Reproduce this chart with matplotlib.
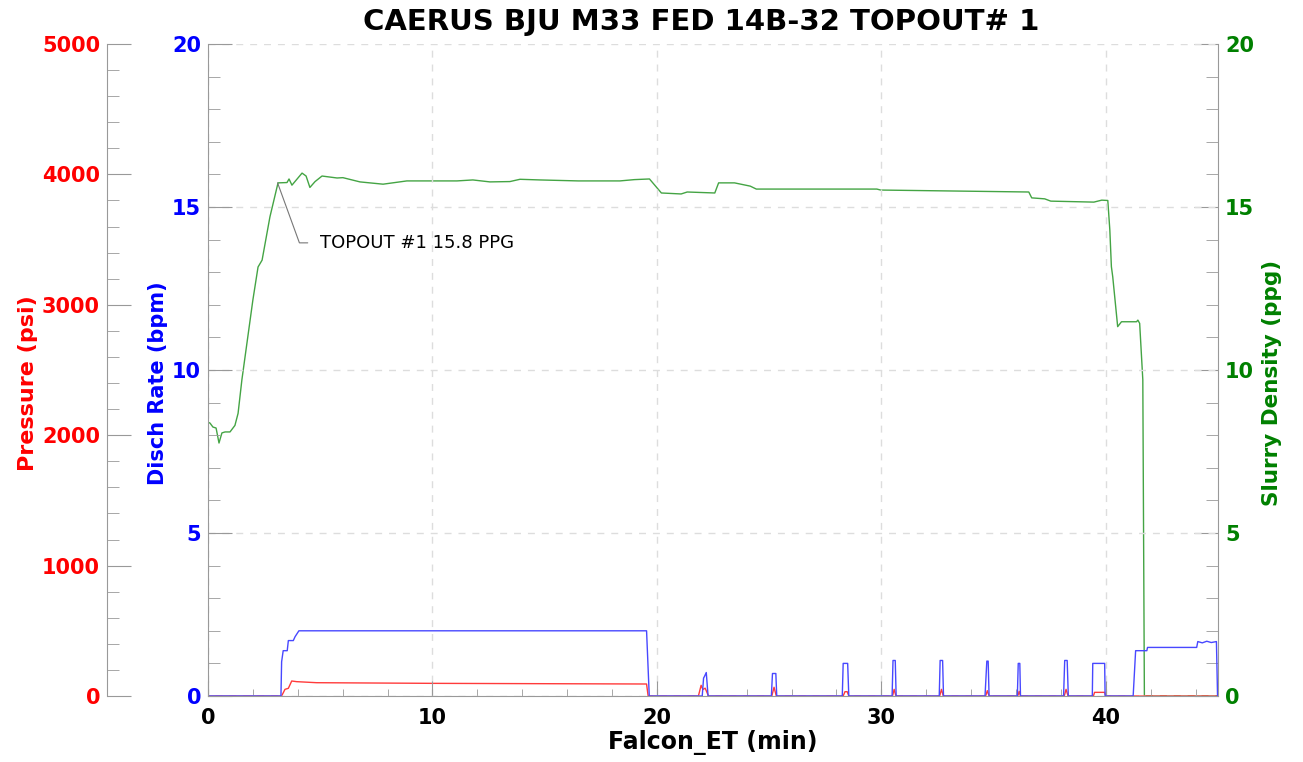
import matplotlib.pyplot as plt
from matplotlib.ticker import MultipleLocator

plt.rcParams['font.family'] = ['DejaVu Sans']

title = 'CAERUS BJU M33 FED 14B-32 TOPOUT# 1'

# Slurry density (ppg)
dens_t = [0, 0.09, 0.22, 0.36, 0.49, 0.62, 0.76, 0.98, 1.2, 1.34, 1.51, 2.0, 2.23, 2.41,
          2.76, 3.12, 3.52, 3.61, 3.74, 4.19, 4.37, 4.54, 4.77, 5.08, 5.75, 6.01, 6.77,
          7.8, 8.86, 11.09, 11.8, 12.56, 13.45, 13.9, 14.79, 16.5, 18.35, 19.0, 19.67,
          20.2, 21.08, 21.35, 22.58, 22.75, 23.46, 24.16, 24.43, 29.8, 29.97, 36.57,
          36.7, 37.28, 37.55, 39.47, 39.82, 40.09, 40.18, 40.25, 40.31, 40.53, 40.7,
          41.37, 41.43, 41.51, 41.65, 41.72, 45]
dens = [8.4, 8.37, 8.25, 8.22, 7.76, 8.07, 8.1, 8.1, 8.3, 8.67, 9.7, 12.15, 13.16, 13.37,
        14.7, 15.74, 15.75, 15.86, 15.67, 16.04, 15.95, 15.6, 15.78, 15.95, 15.89, 15.9, 15.77,
        15.7, 15.8, 15.8, 15.83, 15.77, 15.78, 15.85, 15.83, 15.8, 15.8, 15.84, 15.86,
        15.43, 15.4, 15.46, 15.43, 15.74, 15.74, 15.64, 15.55, 15.55, 15.52, 15.46,
        15.28, 15.25, 15.18, 15.15, 15.21, 15.2, 14.3, 13.17, 12.86, 11.33, 11.48,
        11.48, 11.53, 11.43, 9.7, 0, 0]

# Discharge rate (bpm)
rate_t = [0, 3.25, 3.28, 3.35, 3.53, 3.58, 3.8, 3.88, 4.05, 19.54, 19.66,
          22.02, 22.08, 22.12, 22.2, 22.28,
          25.1, 25.15, 25.3, 25.34,
          28.26, 28.3, 28.5, 28.55,
          30.48, 30.52, 30.62, 30.66,
          32.58, 32.62, 32.73, 32.77,
          34.62, 34.7, 34.76, 34.8,
          36.06, 36.1, 36.17, 36.2,
          38.12, 38.17, 38.28, 38.33,
          39.4, 39.42, 39.95, 39.97,
          41.22, 41.33, 41.83, 41.86, 44.05, 44.1, 44.3, 44.5, 44.7, 44.93, 44.98, 45]
rate = [0, 0, 1.05, 1.39, 1.39, 1.7, 1.7, 1.82, 2.0, 2.0, 0,
        0, 0.55, 0.6, 0.72, 0,
        0, 0.69, 0.69, 0,
        0, 1.0, 1.0, 0,
        0, 1.09, 1.09, 0,
        0, 1.09, 1.09, 0,
        0, 1.07, 1.07, 0,
        0, 1.0, 1.0, 0,
        0, 1.09, 1.09, 0,
        0, 1.0, 1.0, 0,
        0, 1.39, 1.39, 1.49, 1.49, 1.67, 1.63, 1.68, 1.64, 1.67, 0, 0]

# Treating pressure (psi)
pres_t = [0, 3.28, 3.43, 3.58, 3.73, 3.95, 4.84, 10.04, 19.54, 19.61,
          21.85, 21.97, 22.05, 22.15, 22.3,
          25.12, 25.22, 25.32,
          28.3, 28.38, 28.48, 28.55,
          30.5, 30.57, 30.65,
          32.6, 32.68, 32.76,
          34.65, 34.72, 34.8,
          36.08, 36.14, 36.2,
          38.15, 38.23, 38.32,
          39.45, 39.5, 39.95, 40.0, 45]
pres = [0, 0, 51, 59, 115, 110, 102, 97, 92, 0,
        0, 82, 50, 60, 0,
        0, 67, 0,
        0, 33, 33, 0,
        0, 51, 0,
        0, 51, 0,
        0, 41, 0,
        0, 36, 0,
        0, 51, 0,
        0, 28, 28, 0, 0]

spine_col = '#999999'
grid_col = '#dddddd'

fig = plt.figure(figsize=(13.03, 7.62), dpi=100)
ax = fig.add_axes([208 / 1303, 1 - 696 / 762, 1010 / 1303, 652 / 762])
ax_d = ax.twinx()
ax_p = ax.twinx()
# rate on top, density at the back
ax_d.set_zorder(1)
ax_p.set_zorder(2)
ax.set_zorder(3)
ax.patch.set_visible(False)

ax_d.plot(dens_t, dens, color='#44a444', lw=1)
ax_p.plot(pres_t, pres, color='#ff3b3b', lw=1)
ax.plot(rate_t, rate, color='#4848ff', lw=1)

ax.set_xlim(0, 45)
ax.set_ylim(0, 20)
ax_d.set_ylim(0, 20)
ax_p.set_ylim(0, 5000)

for a in (ax, ax_d, ax_p):
    for s in a.spines.values():
        s.set_color(spine_col)
    a.spines['top'].set_visible(False)

ax.spines['right'].set_visible(False)
ax_p.spines['right'].set_visible(False)
ax_p.spines['bottom'].set_visible(False)
ax_p.spines['left'].set_visible(True)
ax_p.spines['left'].set_position(('axes', -0.1))
ax_p.yaxis.set_ticks_position('left')
ax_p.yaxis.set_label_position('left')
ax_d.spines['left'].set_visible(False)
ax_d.spines['bottom'].set_visible(False)

ax.xaxis.set_major_locator(MultipleLocator(10))
ax.xaxis.set_minor_locator(MultipleLocator(2))
ax.yaxis.set_major_locator(MultipleLocator(5))
ax.yaxis.set_minor_locator(MultipleLocator(1))
ax_d.yaxis.set_major_locator(MultipleLocator(5))
ax_d.yaxis.set_minor_locator(MultipleLocator(1))
ax_p.yaxis.set_major_locator(MultipleLocator(1000))
ax_p.yaxis.set_minor_locator(MultipleLocator(200))

tick_font = dict(labelsize=15)
ax.tick_params(axis='x', which='major', direction='in', length=11, color=spine_col,
               labelcolor='black', pad=9, **tick_font)
ax.tick_params(axis='x', which='minor', direction='in', length=5, color=spine_col)
ax.tick_params(axis='y', which='major', direction='in', length=17, color=spine_col,
               labelcolor='#0000ff', pad=5, **tick_font)
ax.tick_params(axis='y', which='minor', direction='in', length=8.5, color=spine_col)
ax_d.tick_params(axis='y', which='major', direction='in', length=17, color=spine_col,
                 labelcolor='#008000', pad=5, **tick_font)
ax_d.tick_params(axis='y', which='minor', direction='in', length=8.5, color=spine_col)
ax_p.tick_params(axis='y', which='major', direction='in', length=17, color=spine_col,
                 labelcolor='#ff0000', pad=5, **tick_font)
ax_p.tick_params(axis='y', which='minor', direction='in', length=8.5, color=spine_col)

for a in (ax, ax_d, ax_p):
    for lab in a.get_xticklabels() + a.get_yticklabels():
        lab.set_fontweight('bold')

ax.grid(True, which='major', color=grid_col, linestyle=(0, (5, 5)), lw=1)

ax.set_xlabel('Falcon_ET (min)', fontsize=17, fontweight='bold', labelpad=1)
ax.set_ylabel('Disch Rate (bpm)', fontsize=15, fontweight='bold', color='#0000ff')
ax.yaxis.set_label_coords(-0.0396, 0.48)
ax_p.set_ylabel('Pressure (psi)', fontsize=16, fontweight='bold', color='#ff0000')
ax_p.yaxis.set_label_coords(-0.168, 0.48)
ax_d.set_ylabel('Slurry Density (ppg)', fontsize=15.5, fontweight='bold', color='#008000')
ax_d.yaxis.set_label_coords(1.0436, 0.48)

ax.set_title(title, fontsize=21, fontweight='bold', x=0.488, pad=10)

ax_d.annotate('TOPOUT #1 15.8 PPG', xy=(3.1, 15.74), xytext=(5.0, 13.9),
              fontsize=13, va='center', ha='left',
              arrowprops=dict(arrowstyle='-', color='#777777', lw=0.8, shrinkA=7, shrinkB=0,
                              connectionstyle='angle,angleA=0,angleB=110,rad=0'))

fig.savefig('out.png', dpi=100)
